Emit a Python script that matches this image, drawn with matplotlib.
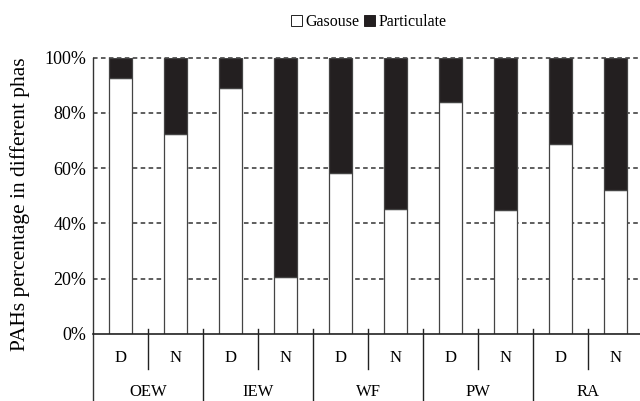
import numpy as np
import matplotlib
matplotlib.use('Agg')
import matplotlib.pyplot as plt
from matplotlib.patches import Patch
from matplotlib.ticker import PercentFormatter

groups = ['OEW', 'IEW', 'WF', 'PW', 'RA']
periods = ['D', 'N']
gaseous = [92.8, 72.4, 89.1, 20.8, 58.1, 45.3, 83.8, 45.0, 68.6, 52.2]
particulate = [7.2, 27.6, 10.9, 79.2, 41.9, 54.7, 16.2, 55.0, 31.4, 47.8]

plt.rcParams['font.family'] = ['Liberation Serif', 'DejaVu Serif']
dark = '#231f20'

fig = plt.figure(figsize=(6.4, 4.01), dpi=100)
ax = fig.add_axes([93 / 640, 67 / 401, 550 / 640, 276.3 / 401])

x = np.arange(len(gaseous))
ax.bar(x, gaseous, width=0.42, color='white', edgecolor='#444444', linewidth=0.9, zorder=3)
ax.bar(x, particulate, width=0.42, bottom=gaseous, color=dark, edgecolor='#444444',
       linewidth=0.9, zorder=3)

ax.set_xlim(-0.5, len(gaseous) - 0.5)
ax.set_ylim(0, 100)
ax.set_yticks([0, 20, 40, 60, 80, 100])
ax.yaxis.set_major_formatter(PercentFormatter(decimals=0))
ax.tick_params(axis='y', length=0, pad=5, labelsize=13)
ax.set_xticks([])

# dashed grid
for v in [20, 40, 60, 80, 100]:
    ax.axhline(v, color='#333333', lw=1.1, ls=(0, (3, 2.2)), zorder=1, clip_on=False)

for s in ['top', 'right']:
    ax.spines[s].set_visible(False)
ax.spines['bottom'].set_color('#222222')
ax.spines['bottom'].set_linewidth(1.2)
ax.spines['bottom'].set_zorder(4)
ax.spines['left'].set_visible(False)

trans = ax.get_xaxis_transform()
# left frame line down to the bottom
ax.plot([-0.5, -0.5], [1, -0.3], transform=trans, color='#333333', lw=1.0, clip_on=False)

# period labels and separators
for i in range(len(gaseous)):
    ax.text(i, -0.087, periods[i % 2], transform=trans, ha='center', va='center', fontsize=12)
for g in range(len(groups)):
    mid = 2 * g + 0.5
    ax.plot([mid, mid], [0.018, -0.127], transform=trans, color='#222222', lw=1.0, clip_on=False)
    ax.text(mid, -0.21, groups[g], transform=trans, ha='center', va='center', fontsize=12)
    edge = 2 * g + 1.5
    ax.plot([edge, edge], [0.018, -0.3], transform=trans, color='#222222', lw=1.0, clip_on=False)

ax.set_ylabel('PAHs percentage in different phas', fontsize=15.5)
ax.yaxis.set_label_coords(-0.115, 0.47)

handles = [Patch(facecolor='white', edgecolor='#222222', linewidth=0.7, label='Gasouse'),
           Patch(facecolor=dark, edgecolor=dark, linewidth=0.7, label='Particulate')]
fig.legend(handles=handles, loc='center', bbox_to_anchor=(369 / 640, 1 - 22 / 401), ncol=2,
           frameon=False, fontsize=11.5, handlelength=0.65, handleheight=0.65,
           handletextpad=0.25, columnspacing=0.3, borderpad=0)

fig.savefig('out.png', dpi=100)
